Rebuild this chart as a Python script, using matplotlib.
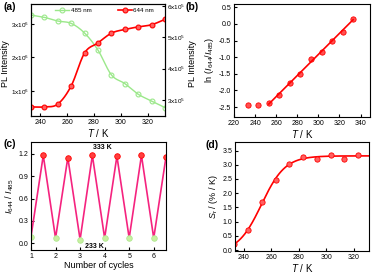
import numpy as np
import matplotlib
matplotlib.use('Agg')
import matplotlib.pyplot as plt
from matplotlib.ticker import FuncFormatter, MultipleLocator

plt.rcParams['font.family'] = ['Liberation Sans', 'DejaVu Sans']
plt.rcParams['mathtext.fontset'] = 'custom'
plt.rcParams['mathtext.rm'] = 'Liberation Sans'
plt.rcParams['mathtext.it'] = 'Liberation Sans:italic'
plt.rcParams['xtick.direction'] = 'in'
plt.rcParams['ytick.direction'] = 'in'
plt.rcParams['xtick.major.size'] = 2
plt.rcParams['ytick.major.size'] = 2
plt.rcParams['axes.linewidth'] = 0.8

# data
temps = [233, 243, 253, 263, 273, 283, 293, 303, 313, 323, 333]
pl_485 = [3.27e6, 3.20e6, 3.09e6, 3.02e6, 2.73e6, 2.22e6, 1.48e6, 1.22e6, 0.90e6, 0.70e6, 0.50e6]
pl_644 = [2.78e5, 2.78e5, 2.87e5, 3.45e5, 4.50e5, 4.82e5, 5.13e5, 5.25e5, 5.33e5, 5.40e5, 5.57e5]
ln_ratio = [-2.45, -2.44, -2.37, -2.15, -1.78, -1.50, -1.04, -0.83, -0.51, -0.25, 0.16]
cycles = [1, 1.5, 2, 2.5, 3, 3.5, 4, 4.5, 5, 5.5, 6, 6.5]
ratio = [0.09, 1.18, 0.07, 1.15, 0.05, 1.18, 0.07, 1.17, 0.07, 1.18, 0.07, 1.16]
sr = [0.22, 0.70, 1.68, 2.47, 3.02, 3.28, 3.22, 3.33, 3.20, 3.33, 3.38]

RED = '#ff0000'
GREEN = '#9be88a'
PINK = '#f5237f'
FS = 7
LFS = 6.5
TFS = 5


def smooth(x, y, n=20):
    # Catmull-Rom curve through the points, just for drawing the line
    x = np.asarray(x, float)
    y = np.asarray(y, float)
    px = np.concatenate([[2 * x[0] - x[1]], x, [2 * x[-1] - x[-2]]])
    py = np.concatenate([[2 * y[0] - y[1]], y, [2 * y[-1] - y[-2]]])
    t = np.linspace(0, 1, n, endpoint=False)
    xs, ys = [], []
    for i in range(1, len(px) - 2):
        for p, out in ((px, xs), (py, ys)):
            p0, p1, p2, p3 = p[i - 1], p[i], p[i + 1], p[i + 2]
            out.append(0.5 * (2 * p1 + (-p0 + p2) * t + (2 * p0 - 5 * p1 + 4 * p2 - p3) * t ** 2
                              + (-p0 + 3 * p1 - 3 * p2 + p3) * t ** 3))
    return np.concatenate(xs + [[x[-1]]]), np.concatenate(ys + [[y[-1]]])


def sci(v, pos):
    if v == 0:
        return '0'
    e = int(np.floor(np.log10(abs(v))))
    return r'%dx10$^{%d}$' % (round(v / 10 ** e), e)


W, H = 372, 274


def axes_px(l, r, t, b):
    return fig.add_axes([l / W, 1 - b / H, (r - l) / W, (b - t) / H])


fig = plt.figure(figsize=(W / 100, H / 100), dpi=100)

# (a)
ax = axes_px(31, 165, 4, 116)
ax2 = ax.twinx()
sx, sy = smooth(temps, pl_485)
ax.plot(sx, sy, color=GREEN, lw=1.0)
ax.plot(temps, pl_485, 'o', ms=3.5, mfc='none', mec=GREEN, mew=0.8)
h1, = ax.plot([], [], '-o', color=GREEN, ms=3.5, mfc='none', mew=0.8, lw=1.0)
sx, sy = smooth(temps, pl_644)
ax2.plot(sx, sy, color=RED, lw=1.2)
ax2.plot(temps, pl_644, 'o', ms=3.5, mfc='#ff6060', mec=RED, mew=0.8)
h2, = ax2.plot([], [], '-o', color=RED, ms=3.5, mfc='#ff6060', mew=0.8, lw=1.2)
ax.set_xlim(233, 333)
ax.set_ylim(0.25e6, 3.6e6)
ax2.set_ylim(2.49e5, 6.06e5)
ax.set_xticks([240, 260, 280, 300, 320])
ax.set_yticks([1e6, 2e6, 3e6])
ax2.set_yticks([3e5, 4e5, 5e5, 6e5])
ax.yaxis.set_major_formatter(FuncFormatter(sci))
ax2.yaxis.set_major_formatter(FuncFormatter(sci))
ax.tick_params(axis='x', labelsize=TFS, pad=2)
ax.tick_params(axis='y', labelsize=4.6, pad=1.5)
ax2.tick_params(labelsize=4.6, pad=1.5)
ax.set_xlabel(r'$T$ / K', fontsize=FS, labelpad=1)
ax.set_ylabel('PL Intensity', fontsize=LFS)
ax.yaxis.set_label_coords(-0.155, 0.47)
ax2.set_ylabel('PL Intensity', fontsize=LFS)
ax2.yaxis.set_label_coords(1.17, 0.47)
ax.legend([h1, h2], ['485 nm', '644 nm'], ncol=2, loc='upper center', bbox_to_anchor=(0.55, 1.02),
          frameon=False, fontsize=4.5, handlelength=2.2, columnspacing=4.2, handletextpad=0.3)
fig.text(3 / W, 1 - 10 / H, '(a)', fontsize=7.5, fontweight='bold')

# (b)
ax = axes_px(234, 370, 4, 117)
ax.plot(temps, ln_ratio, 'o', ms=3.8, mfc='#ff5050', mec=RED, mew=0.6)
k, c = np.polyfit(temps[2:], ln_ratio[2:], 1)
fx = np.array([temps[2], temps[-1]])
ax.plot(fx, k * fx + c, color=RED, lw=1.2)
ax.set_xlim(220, 349)
ax.set_ylim(-2.8, 0.6)
ax.set_xticks(range(220, 341, 20))
ax.yaxis.set_major_locator(MultipleLocator(0.5))
ax.yaxis.set_major_formatter(FuncFormatter(lambda v, p: '%.1f' % v))
ax.tick_params(labelsize=TFS, pad=2)
ax.set_xlabel(r'$T$ / K', fontsize=FS, labelpad=1)
ax.set_ylabel(r'ln ($I_{644}$/$I_{485}$)', fontsize=LFS, labelpad=2)
fig.text(186 / W, 1 - 10 / H, '(b)', fontsize=7.5, fontweight='bold')

# (c)
ax = axes_px(31, 166, 142, 250)
ax.plot(cycles, ratio, color=PINK, lw=1.2)
ax.plot(cycles[1::2], ratio[1::2], 'o', ms=4, mfc='#ff4040', mec=RED, mew=0.6)
ax.plot(cycles[0::2], ratio[0::2], 'o', ms=4, mfc='#c8f0a0', mec='#b0e890', mew=0.6)
ax.set_xlim(1, 6.5)
ax.set_ylim(-0.09, 1.36)
ax.set_xticks([1, 2, 3, 4, 5, 6])
ax.set_yticks([0.0, 0.3, 0.6, 0.9, 1.2])
ax.yaxis.set_major_formatter(FuncFormatter(lambda v, p: '%.1f' % v))
ax.tick_params(labelsize=TFS, pad=2)
ax.text(3.9, 1.29, '333 K', fontsize=TFS, fontweight='bold', ha='center', va='center')
ax.text(3.6, -0.04, '233 K', fontsize=TFS, fontweight='bold', ha='center', va='center')
ax.set_xlabel('Number of cycles', fontsize=LFS, labelpad=1)
ax.set_ylabel(r'$I_{644}$ / $I_{485}$', fontsize=LFS, labelpad=2)
fig.text(3 / W, 1 - 147 / H, '(c)', fontsize=7.5, fontweight='bold')

# (d)
ax = axes_px(235, 369, 142, 251)
tx = np.asarray(temps, float)
sy = np.asarray(sr, float)
best = None
for x0 in np.arange(240, 270, 0.2):
    for dx in np.arange(2, 15, 0.2):
        s = 1 / (1 + np.exp((tx - x0) / dx))
        A = np.column_stack([s, 1 - s])
        coef, *_ = np.linalg.lstsq(A, sy, rcond=None)
        err = np.sum((A @ coef - sy) ** 2)
        if best is None or err < best[0]:
            best = (err, x0, dx, coef)
_, x0, dx, (a1, a2) = best
fx = np.linspace(233, 333, 200)
fs = 1 / (1 + np.exp((fx - x0) / dx))
ax.plot(fx, a1 * fs + a2 * (1 - fs), color=RED, lw=1.2)
ax.plot(temps, sr, 'o', ms=3.8, mfc='#ff6060', mec=RED, mew=0.6)
ax.set_xlim(233.5, 331)
ax.set_ylim(-0.03, 3.8)
ax.set_xticks([240, 260, 280, 300, 320])
ax.yaxis.set_major_locator(MultipleLocator(0.5))
ax.yaxis.set_major_formatter(FuncFormatter(lambda v, p: '%.1f' % v))
ax.tick_params(labelsize=TFS, pad=2)
ax.set_xlabel(r'$T$ / K', fontsize=FS, labelpad=1)
ax.set_ylabel(r'$S_\mathregular{r}$ / (% / K)', fontsize=LFS, labelpad=2)
fig.text(206 / W, 1 - 148 / H, '(d)', fontsize=7.5, fontweight='bold')

fig.savefig('out.png', dpi=100)
